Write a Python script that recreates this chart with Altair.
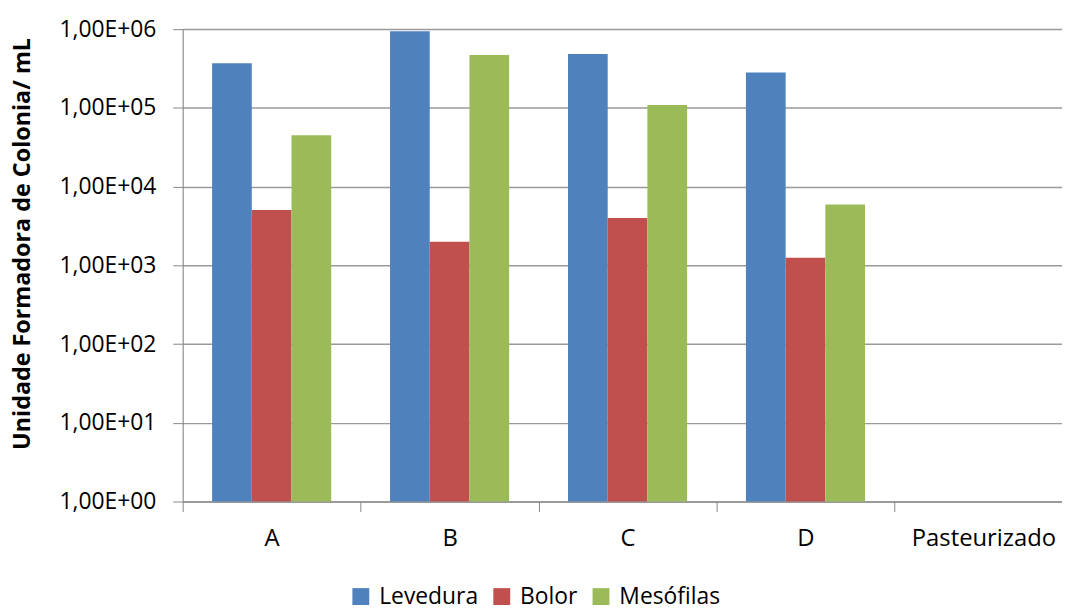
import altair as alt
import pandas as pd

categories = ["A", "B", "C", "D", "Pasteurizado"]
series = ["Levedura", "Bolor", "Mesófilas"]
levedura = [3.68e5, 9.4e5, 4.83e5, 2.81e5]
bolor = [5.05e3, 2.0e3, 4.0e3, 1.25e3]
mesofilas = [4.5e4, 4.7e5, 1.09e5, 5.94e3]
colors = ["#4F81BD", "#C0504D", "#9BBB59"]
y_ticks = [1, 10, 100, 1000, 10000, 100000, 1000000]

rows = []
for name, vals in zip(series, [levedura, bolor, mesofilas]):
    for cat, v in zip(categories[:4], vals):
        rows.append({"categoria": cat, "serie": name, "valor": v, "base": 1})
df = pd.DataFrame(rows)

FONT = "Open Sans"

bars = alt.Chart(df).mark_bar().encode(
    x=alt.X(
        "categoria:N",
        sort=categories,
        scale=alt.Scale(domain=categories, range=[0, 896.5], paddingInner=0, paddingOuter=0),
        axis=alt.Axis(
            title=None,
            labelAngle=0,
            tickBand="extent",
            tickSize=10,
            labelPadding=15,
            labelFontSize=24,
            labelFont=FONT,
            labelColor="#000000",
            domainColor="#868686",
            tickColor="#868686",
            grid=False,
        ),
    ),
    xOffset=alt.XOffset(
        "serie:N",
        sort=series,
        scale=alt.Scale(domain=series, paddingInner=0, paddingOuter=0.741),
    ),
    y=alt.Y(
        "valor:Q",
        scale=alt.Scale(type="log", domain=[1, 1000000], nice=False),
        axis=alt.Axis(
            title="Unidade Formadora de Colonia/ mL",
            values=y_ticks,
            labelExpr="'1,00E+0' + round(log(datum.value)/LN10)",
            labelFontSize=23,
            labelFont=FONT,
            labelColor="#000000",
            labelPadding=17,
            tickSize=10,
            tickColor="#868686",
            domainColor="#868686",
            grid=True,
            gridColor="#9a9a9a",
            gridWidth=1.5,
            titleFont=FONT,
            titleFontSize=23.5,
            titleFontWeight="bold",
            titleColor="#000000",
            titleAngle=270,
            titleX=-161,
            titleY=216,
            titleAlign="center",
            titleBaseline="middle",
        ),
    ),
    y2="base:Q",
    color=alt.Color(
        "serie:N",
        sort=series,
        scale=alt.Scale(domain=series, range=colors),
        legend=alt.Legend(
            title=None,
            orient="none",
            direction="horizontal",
            legendX=168,
            legendY=560,
            symbolType="square",
            symbolSize=289,
            symbolStrokeWidth=0,
            symbolOpacity=1,
            labelFontSize=23,
            labelFont=FONT,
            labelColor="#000000",
            labelOffset=7,
            columnPadding=12,
        ),
    ),
)

chart = bars.properties(
    width=886,
    height=476,
    autosize=alt.AutoSizeParams(type="none"),
    padding={"left": 176, "top": 19, "right": 0, "bottom": 106},
).configure_view(stroke=None).configure(background="white")

chart.save("out.html", embed_options={"renderer": "svg", "actions": False})
